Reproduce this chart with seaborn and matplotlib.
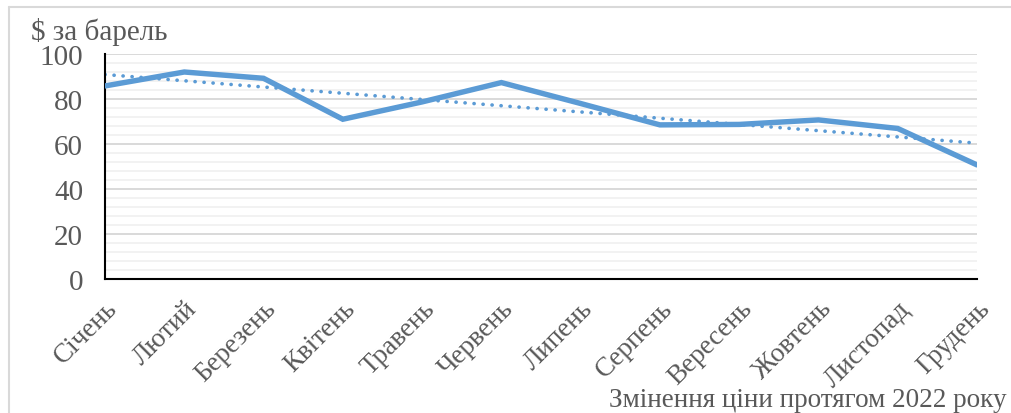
import numpy as np
import pandas as pd
import matplotlib
matplotlib.use("Agg")
import matplotlib.pyplot as plt
from matplotlib.ticker import MultipleLocator
import seaborn as sns

# Monthly oil price, 2022 (USD per barrel)
months = ["Січень", "Лютий", "Березень", "Квітень", "Травень", "Червень",
          "Липень", "Серпень", "Вересень", "Жовтень", "Листопад", "Грудень"]
price = [85.8, 92.0, 89.2, 71.0, 78.7, 87.3, 78.0, 68.5, 68.7, 70.7, 66.9, 50.7]
y_ticks = [0, 20, 40, 60, 80, 100]

y_label = "$ за барель"
x_label = "Змінення ціни протягом 2022 року"

df = pd.DataFrame({"idx": np.arange(len(months)), "price": price})

sns.set_style("white")
plt.rcParams["font.family"] = ["Liberation Serif", "DejaVu Serif"]

TEXT = "#595959"
BLUE = "#5B9BD5"

fig = plt.figure(figsize=(10.12, 4.14), dpi=100)
ax = fig.add_axes([105 / 1012, 134 / 414, 872 / 1012, 225 / 414])

# grid: major every 20, minor every 4
ax.yaxis.set_major_locator(MultipleLocator(20))
ax.yaxis.set_minor_locator(MultipleLocator(4))
ax.grid(which="minor", axis="y", color="#F0F0F0", linewidth=1.2, zorder=0)
ax.grid(which="major", axis="y", color="#D9D9D9", linewidth=1.4, zorder=0)
ax.set_axisbelow(True)

# price line
sns.lineplot(data=df, x="idx", y="price", ax=ax, color=BLUE, linewidth=3.9,
             solid_joinstyle="miter", zorder=3)

# linear trend
sns.regplot(data=df, x="idx", y="price", ax=ax, scatter=False, ci=None,
            truncate=True,
            line_kws=dict(color=BLUE, linewidth=2.6, linestyle=(0, (0.05, 2.45)),
                          dash_capstyle="round", zorder=2))

ax.set_xlim(0, len(months) - 1)
ax.set_ylim(0, 100)
ax.set_xticks(df["idx"])
ax.set_xticklabels(months, rotation=45, ha="right", rotation_mode="anchor",
                   fontsize=19.5, color=TEXT)
ax.set_yticks(y_ticks)
ax.set_yticklabels([str(v) for v in y_ticks], fontsize=21, color=TEXT)
ax.tick_params(axis="both", which="major", direction="inout", length=11.5,
               width=1.4, color="black")
ax.tick_params(axis="y", which="major", pad=10)
ax.tick_params(axis="x", which="major", pad=6)
ax.tick_params(axis="y", which="minor", length=0)
ax.set_xlabel("")
ax.set_ylabel("")

for side in ("top", "right"):
    ax.spines[side].set_visible(False)
for side in ("left", "bottom"):
    ax.spines[side].set_visible(True)
    ax.spines[side].set_color("black")
    ax.spines[side].set_linewidth(1.5)

fig.text(31 / 1012, 1 - 40 / 414, y_label, fontsize=21, color=TEXT,
         ha="left", va="baseline")
fig.text(1007 / 1012, 1 - 407 / 414, x_label, fontsize=19.5, color=TEXT,
         ha="right", va="baseline")

# chart frame (top and left edges visible)
fig.add_artist(plt.Line2D([9 / 1012, 1], [1 - 8 / 414, 1 - 8 / 414],
                          transform=fig.transFigure, color="#D9D9D9", linewidth=1.5))
fig.add_artist(plt.Line2D([9 / 1012, 9 / 1012], [0, 1 - 8 / 414],
                          transform=fig.transFigure, color="#D9D9D9", linewidth=1.5))

fig.savefig("out.png", dpi=100, facecolor="white")
